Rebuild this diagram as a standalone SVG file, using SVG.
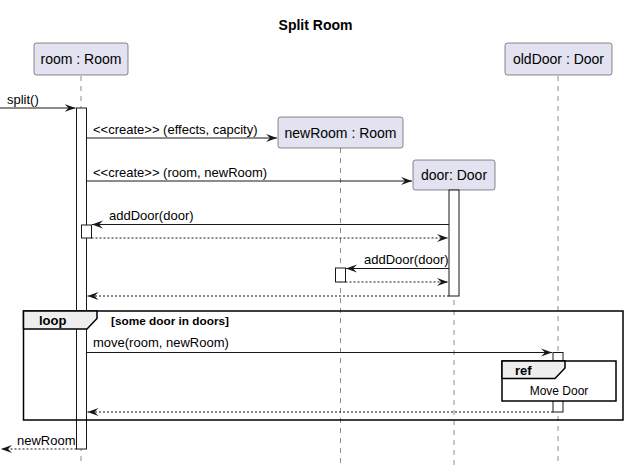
<svg xmlns="http://www.w3.org/2000/svg" width="627" height="473" viewBox="0 0 627 473">
<style>
text{font-family:"Liberation Sans",Arial,sans-serif;fill:#000}
.title{font-size:14px;font-weight:bold}
.pt{font-size:14px}
.msg{font-size:13px}
.box{fill:#E2E2F0;stroke:#181818;stroke-width:0.5}
.life{stroke:#181818;stroke-width:0.5;stroke-dasharray:5,5;fill:none}
.act{fill:#FFFFFF;stroke:#181818;stroke-width:1}
.sol{stroke:#181818;stroke-width:1;fill:none}
.dash{stroke:#181818;stroke-width:1;stroke-dasharray:2,2;fill:none}
.frame{fill:none;stroke:#000;stroke-width:1.5}
.tab{fill:#EEEEEE;stroke:#000;stroke-width:1.5}
.fb{font-size:13px;font-weight:bold}
.guard{font-size:11.8px;font-weight:bold}
</style>
<defs>
<marker id="ah" viewBox="0 0 12 10" refX="11" refY="5" markerWidth="12" markerHeight="10" orient="auto" markerUnits="userSpaceOnUse">
<path d="M0,1 L11,5 L0,9 L4,5 Z" fill="#181818"/>
</marker>
</defs>
<rect width="627" height="473" fill="#FFFFFF"/>
<text class="title" x="315.5" y="30" text-anchor="middle">Split Room</text>

<g id="lifelines">
<line class="life" x1="81" y1="76" x2="81" y2="466"/>
<line class="life" x1="340.5" y1="148" x2="340.5" y2="466"/>
<line class="life" x1="454" y1="190" x2="454" y2="466"/>
<line class="life" x1="558" y1="76" x2="558" y2="466"/>
</g>

<g id="room">
<rect class="box" x="34" y="43" width="94" height="32" rx="2.5"/>
<text class="pt" x="81" y="64" text-anchor="middle">room : Room</text>
</g>
<g id="newRoom">
<rect class="box" x="278" y="117" width="125" height="31" rx="2.5"/>
<text class="pt" x="340.5" y="137.5" text-anchor="middle">newRoom : Room</text>
</g>
<g id="door">
<rect class="box" x="413" y="160" width="82" height="30" rx="2.5"/>
<text class="pt" x="454" y="180" text-anchor="middle">door: Door</text>
</g>
<g id="oldDoor">
<rect class="box" x="505" y="43" width="107" height="32" rx="2.5"/>
<text class="pt" x="558.5" y="64" text-anchor="middle">oldDoor : Door</text>
</g>

<g id="activations">
<rect class="act" x="76.5" y="108" width="10" height="341"/>
<rect class="act" x="449" y="190" width="10" height="106"/>
<rect class="act" x="81.5" y="225" width="10" height="13"/>
<rect class="act" x="335.5" y="268" width="10" height="14"/>
<rect class="act" x="553" y="352.5" width="10" height="59.5"/>
</g>

<g id="loop">
<rect class="frame" x="23.5" y="311" width="599.5" height="109"/>
<path class="tab" d="M23.5,311 L97,311 L97,318.5 L87,329 L23.5,329 Z"/>
<text class="fb" x="39" y="325">loop</text>
<text class="guard" x="111" y="325">[some door in doors]</text>
</g>

<g id="ref">
<rect x="502" y="361" width="114" height="40" fill="#FFFFFF" stroke="#000" stroke-width="1.5"/>
<path class="tab" d="M502,361 L565,361 L565,368 L555,378.5 L502,378.5 Z"/>
<text class="fb" x="515" y="375">ref</text>
<text class="msg" x="559" y="395" text-anchor="middle" style="font-size:12px">Move Door</text>
</g>

<g id="connectors">
<line class="sol" x1="0" y1="108" x2="75.5" y2="108" marker-end="url(#ah)"/>
<text class="msg" x="7" y="104">split()</text>

<line class="sol" x1="86.5" y1="138" x2="277" y2="138" marker-end="url(#ah)"/>
<text class="msg" x="93" y="134">&lt;&lt;create&gt;&gt; (effects, capcity)</text>

<line class="sol" x1="86.5" y1="181" x2="412" y2="181" marker-end="url(#ah)"/>
<text class="msg" x="93" y="177">&lt;&lt;create&gt;&gt; (room, newRoom)</text>

<line class="sol" x1="449" y1="224.5" x2="92" y2="224.5" marker-end="url(#ah)"/>
<text class="msg" x="109" y="220">addDoor(door)</text>
<line class="dash" x1="91.5" y1="238" x2="448" y2="238" marker-end="url(#ah)"/>

<line class="sol" x1="449" y1="268.5" x2="346" y2="268.5" marker-end="url(#ah)"/>
<text class="msg" x="364" y="264">addDoor(door)</text>
<line class="dash" x1="345.5" y1="282" x2="448" y2="282" marker-end="url(#ah)"/>

<line class="dash" x1="449" y1="296" x2="87.5" y2="296" marker-end="url(#ah)"/>

<line class="sol" x1="86.5" y1="352.5" x2="552" y2="352.5" marker-end="url(#ah)"/>
<text class="msg" x="93" y="347">move(room, newRoom)</text>

<line class="dash" x1="553" y1="412" x2="87.5" y2="412" marker-end="url(#ah)"/>

<line class="dash" x1="76.5" y1="449" x2="1" y2="449" marker-end="url(#ah)"/>
<text class="msg" x="17" y="445">newRoom</text>
</g>
</svg>
